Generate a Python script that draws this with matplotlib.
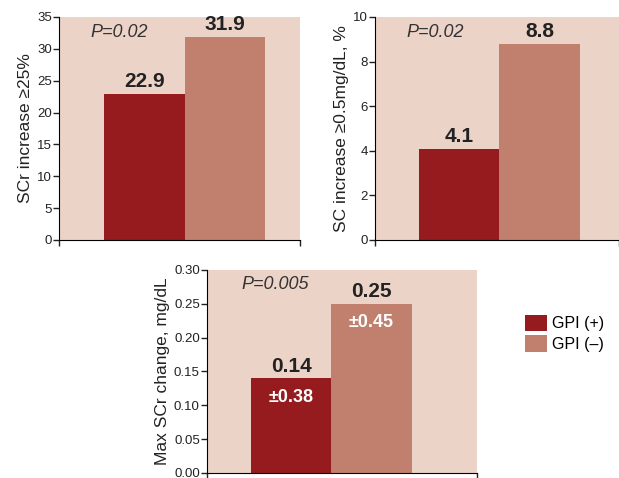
import matplotlib
matplotlib.use("Agg")
import matplotlib.pyplot as plt
from matplotlib.patches import Patch
from matplotlib.ticker import FormatStrFormatter

plt.rcParams['font.family'] = ['Liberation Sans Narrow', 'Liberation Sans', 'DejaVu Sans']

# ── Data ───────────────────────────────────────────────
groups = ["GPI (+)", "GPI (–)"]
scr25 = [22.9, 31.9]
sc05 = [4.1, 8.8]
max_change = [0.14, 0.25]
max_change_sd = ["±0.38", "±0.45"]
p_values = ["P=0.02", "P=0.02", "P=0.005"]

bar_colors = ["#951b1e", "#c1806d"]
bg = "#ecd3c8"

fig = plt.figure(figsize=(6.19, 4.78), dpi=100)
ax1 = fig.add_axes([0.0953, 0.498, 0.389, 0.4665])
ax2 = fig.add_axes([0.606, 0.498, 0.394, 0.4665])
ax3 = fig.add_axes([0.334, 0.0105, 0.436, 0.4247])


def panel(ax, vals, ymax, step, ylabel, ptext, fmt=None, xlim=(-1.06, 1.93)):
    x = range(len(vals))
    ax.set_facecolor(bg)
    ax.bar(x, vals, width=1.0, color=bar_colors)
    ax.set_xlim(*xlim)
    ax.set_ylim(0, ymax)
    ticks = [i * step for i in range(int(round(ymax / step)) + 1)]
    ax.set_yticks(ticks)
    if fmt:
        ax.yaxis.set_major_formatter(FormatStrFormatter(fmt))
    ax.set_xticks(list(xlim))
    ax.set_xticklabels([])
    ax.tick_params(axis="both", direction="out", length=4, width=1,
                   labelsize=9.5, colors="#222222", pad=1)
    ax.spines["top"].set_visible(False)
    ax.spines["right"].set_visible(False)
    ax.set_ylabel(ylabel, fontsize=12.5, color="#222222", labelpad=3)
    ax.text(0.13, 0.93, ptext, transform=ax.transAxes, fontsize=13,
            style="italic", va="center", ha="left", color="#333333")
    for xi, v in zip(x, vals):
        label = f"{v:.2f}" if fmt else f"{v}"
        ax.text(xi, v + ymax * 0.012, label, ha="center", va="bottom",
                fontsize=15, fontweight="bold", color="#222222",
                family=["Liberation Sans", "DejaVu Sans"])


panel(ax1, scr25, 35, 5, "SCr increase ≥25%", p_values[0])
panel(ax2, sc05, 10, 2, "SC increase ≥0.5mg/dL, %", p_values[1], xlim=(-1.05, 1.99))
panel(ax3, max_change, 0.30, 0.05, "Max SCr change, mg/dL", p_values[2],
      fmt="%.2f", xlim=(-1.05, 2.31))

for xi, v, sd in zip(range(2), max_change, max_change_sd):
    ax3.text(xi, v - 0.028, sd, ha="center", va="center", fontsize=13,
             fontweight="bold", color="white")

handles = [Patch(facecolor=c, edgecolor="none") for c in bar_colors]
fig.legend(handles, groups, loc="upper left", bbox_to_anchor=(0.838, 0.355),
           frameon=False, fontsize=11.5, handlelength=1.4, handleheight=1.2,
           handletextpad=0.3, labelspacing=0.25, borderaxespad=0)

fig.savefig("out.png", dpi=100, facecolor="white")
